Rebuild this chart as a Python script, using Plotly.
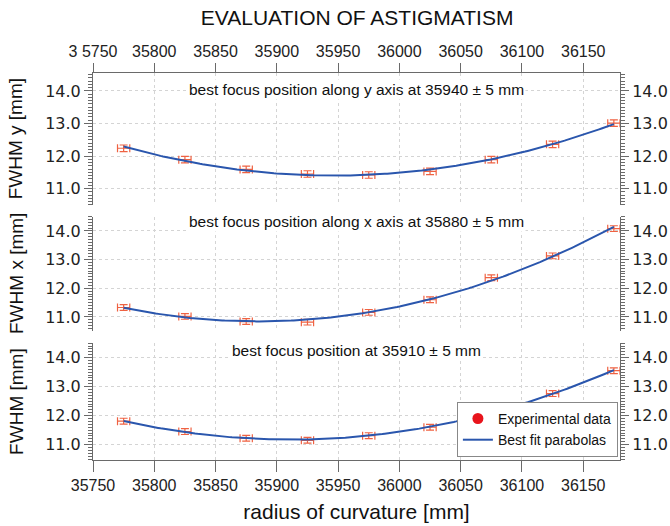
import numpy as np
import plotly.graph_objects as go

# ---- data ----
radius = [35775, 35825, 35875, 35925, 35975, 36025, 36075, 36125, 36175]
fwhm_y = [12.24, 11.89, 11.59, 11.45, 11.42, 11.53, 11.89, 12.36, 13.01]
fwhm_x = [11.33, 11.02, 10.84, 10.82, 11.16, 11.60, 12.37, 13.13, 14.08]
fwhm = [11.81, 11.45, 11.22, 11.15, 11.31, 11.60, 12.14, 12.76, 13.55]
radius_err = [5] * 9
fwhm_err = [0.1] * 9

x_tickvals = [35750, 35800, 35850, 35900, 35950, 36000, 36050, 36100, 36150]
x_ticktext_bottom = ["35750", "35800", "35850", "35900", "35950", "36000", "36050", "36100", "36150"]
x_ticktext_top = ["3 5750", "35800", "35850", "35900", "35950", "36000", "36050", "36100", "36150"]

panel_notes = [
    "best focus position along y axis at 35940 ± 5 mm",
    "best focus position along x axis at 35880 ± 5 mm",
    "best focus position at 35910 ± 5 mm",
]
panel_titles = ["FWHM y [mm]", "FWHM x [mm]", "FWHM [mm]"]

# ---- styles ----
ERR_COLOR = "#ef6242"
LINE_COLOR = "#2a56ad"
AX_COLOR = "#6a6a6a"
GRID_COLOR = "#d4d4d4"
FONT = "Liberation Sans, Arial, sans-serif"
YFONT = "DejaVu Sans, Verdana, sans-serif"

domains = [[0.659, 1.0], [0.334, 0.629], [0.0, 0.302]]
yranges = [[10.5, 14.55], [10.52, 14.5], [10.47, 14.5]]
series = [fwhm_y, fwhm_x, fwhm]
xaxes = ["x3", "x2", "x"]
yleft = ["y", "y2", "y3"]
yright = ["y4", "y5", "y6"]

xfit = np.linspace(min(radius), max(radius), 200)

fig = go.Figure()
for i in range(3):
    vals = series[i]
    coef = np.polyfit(radius, vals, 2)
    fig.add_trace(go.Scatter(
        x=radius, y=vals, mode="markers",
        marker=dict(size=1, color=ERR_COLOR, opacity=0),
        error_x=dict(type="data", array=radius_err, color=ERR_COLOR, thickness=1.2, width=4),
        error_y=dict(type="data", array=fwhm_err, color=ERR_COLOR, thickness=1.2, width=4),
        xaxis=xaxes[i], yaxis=yleft[i], showlegend=False, hoverinfo="skip",
    ))
    fig.add_trace(go.Scatter(
        x=xfit, y=np.polyval(coef, xfit), mode="lines",
        line=dict(color=LINE_COLOR, width=2),
        xaxis=xaxes[i], yaxis=yright[i],
        name="Best fit parabolas", showlegend=(i == 2), legendrank=2,
    ))

# legend marker entry
fig.add_trace(go.Scatter(
    x=[None], y=[None], mode="markers",
    marker=dict(size=11, color="#e8141c"),
    name="Experimental data", xaxis="x", yaxis="y3", legendrank=1,
))

xcommon = dict(
    range=[35750, 36180], tickvals=x_tickvals, showgrid=True,
    gridcolor=GRID_COLOR, griddash="dot", gridwidth=1, zeroline=False,
    linecolor=AX_COLOR, tickcolor=AX_COLOR, automargin=False,
    tickfont=dict(family=FONT, size=16, color="#222"),
)

layout = dict(
    width=670, height=526,
    margin=dict(l=93, r=50, t=73, b=66, autoexpand=False),
    paper_bgcolor="white", plot_bgcolor="white",
    showlegend=True,
    title=dict(text="EVALUATION OF ASTIGMATISM", x=0.533, y=0.966,
               xanchor="center", yanchor="middle",
               font=dict(family=FONT, size=21, color="#111")),
    legend=dict(x=0.996, y=0.008, xanchor="right", yanchor="bottom",
                bgcolor="white", bordercolor="#888", borderwidth=1,
                font=dict(family=FONT, size=14, color="#111"),
                itemwidth=30, tracegroupgap=0),
    xaxis=dict(xcommon, domain=[0, 1], anchor="y3", side="bottom",
               showline=True, ticks="outside", ticklen=11,
               ticktext=x_ticktext_bottom,
               title=dict(text="radius of curvature [mm]", standoff=11,
                          font=dict(family=FONT, size=21, color="#111"))),
    xaxis2=dict(xcommon, domain=[0, 1], anchor="y2", matches="x",
                showline=False, ticks="", showticklabels=False),
    xaxis3=dict(xcommon, domain=[0, 1], anchor="y", matches="x", side="top",
                showline=True, ticks="outside", ticklen=9,
                ticktext=x_ticktext_top),
)

for i in range(3):
    common = dict(
        domain=domains[i], range=yranges[i], tickmode="linear", tick0=0, dtick=1,
        tickformat=".1f", zeroline=False, showline=True, automargin=False,
        linecolor=AX_COLOR, tickcolor=AX_COLOR, ticks="outside", ticklen=8,
        minor=dict(ticks="outside", dtick=0.1, ticklen=4, tickcolor=AX_COLOR, showgrid=False),
        tickfont=dict(family=YFONT, size=16, color="#222"),
    )
    lk = "yaxis" if i == 0 else "yaxis%d" % (i + 1)
    layout[lk] = dict(common, anchor=xaxes[i], side="left", showgrid=True,
                      gridcolor=GRID_COLOR, griddash="dot", gridwidth=1)
    rk = "yaxis%d" % (i + 4)
    layout[rk] = dict(common, anchor=xaxes[i], side="right", overlaying=yleft[i],
                      showgrid=False)

annotations = []
note_y = [0.958, 0.616, 0.284]
for i in range(3):
    annotations.append(dict(
        text=panel_notes[i], x=0.5, y=note_y[i], xref="paper", yref="paper",
        xanchor="center", yanchor="middle", showarrow=False, bgcolor="white",
        font=dict(family=FONT, size=15.5, color="#111"),
    ))
    annotations.append(dict(
        text=panel_titles[i], x=-0.1455, y=(domains[i][0] + domains[i][1]) / 2,
        xref="paper", yref="paper", xanchor="center", yanchor="middle",
        textangle=-90, showarrow=False,
        font=dict(family=FONT, size=19, color="#111"),
    ))
layout["annotations"] = annotations

fig.update_layout(**layout)
fig.write_html(
    "out.html",
    config={"displayModeBar": False},
    post_script="document.body.style.margin='0';document.body.style.overflow='hidden';",
)
